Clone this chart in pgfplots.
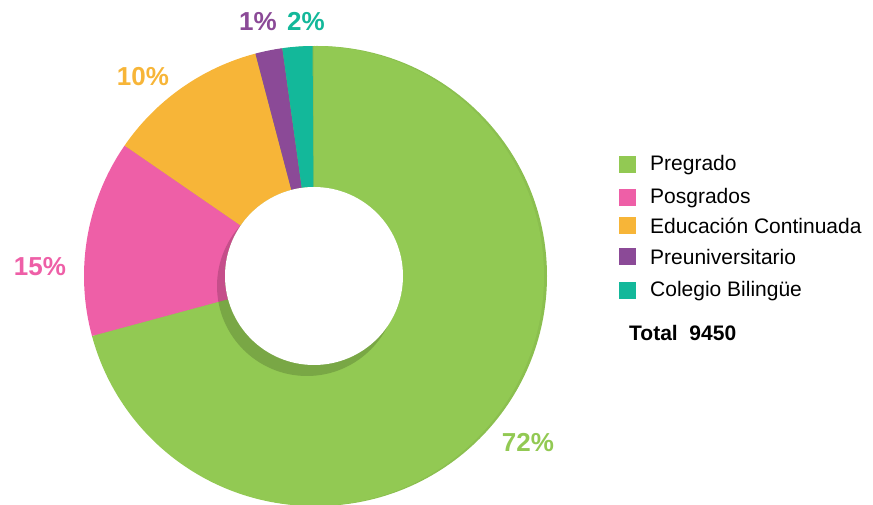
\documentclass[border=0pt]{standalone}
\usepackage{pgfplots}
\pgfplotsset{compat=1.18}
\usepackage{pgfplotstable}
\usepackage{fontspec}
\setmainfont{Liberation Sans}
\definecolor{pregC}{HTML}{92C953}
\definecolor{posC}{HTML}{EE5FA7}
\definecolor{eduC}{HTML}{F7B538}
\definecolor{preuC}{HTML}{8B4A97}
\definecolor{colC}{HTML}{13B89A}

% share of the ring (percent of 360 degrees), clockwise from the top
\pgfplotstableread{
share col
70.8  pregC
13.8  posC
11.3  eduC
1.9   preuC
2.1   colC
}\slices

\begin{document}
\begin{tikzpicture}
\begin{axis}[x=1pt, y=1pt, xmin=0, xmax=873, ymin=0, ymax=505,
  hide axis, scale only axis, clip=false]
\pgfplotsextra{
  \def\cx{314}\def\cy{229}\def\R{230}\def\r{89}
  % faint rim on the right
  \fill[pregC!95!black] (axis cs:317,229) circle[radius=230pt];
  \pgfplotstablegetrowsof{\slices}
  \pgfmathtruncatemacro\N{\pgfplotsretval-1}
  \xdef\angA{90}
  \foreach \i in {0,...,\N}{
    \pgfplotstablegetelem{\i}{share}\of\slices \let\sh\pgfplotsretval
    \pgfplotstablegetelem{\i}{col}\of\slices \let\cl\pgfplotsretval
    \pgfmathsetmacro\angB{\angA-3.6*\sh}
    \fill[\cl] (axis cs:{\cx+\R*cos(\angA)},{\cy+\R*sin(\angA)})
      arc[start angle=\angA, end angle=\angB, radius=\R pt]
      -- (axis cs:{\cx+\r*cos(\angB)},{\cy+\r*sin(\angB)})
      arc[start angle=\angB, end angle=\angA, radius=\r pt] -- cycle;
    \xdef\angA{\angB}
  }
  % hole with its drop shadow
  \fill[black, opacity=0.17] (axis cs:307,219) circle[radius=90pt];
  \fill[white] (axis cs:314,229) circle[radius=89pt];
  % percentages
  \begingroup
  \bfseries\fontsize{26}{26}\selectfont
  \node[text=pregC] at (axis cs:528,62) {72\%};
  \node[text=posC] at (axis cs:40,238) {15\%};
  \node[text=eduC] at (axis cs:143,428) {10\%};
  \node[text=preuC] at (axis cs:258,483) {1\%};
  \node[text=colC] at (axis cs:306,483) {2\%};
  \endgroup
  % legend
  \begingroup
  \fontsize{21}{21}\selectfont
  \foreach \y/\c/\t in {340/pregC/Pregrado, 307/posC/Posgrados,
      279/eduC/Educación Continuada, 248/preuC/Preuniversitario,
      214/colC/Colegio Bilingüe}{
    \fill[\c] (axis cs:619,\y-8.5) rectangle (axis cs:636,\y+8.5);
    \node[anchor=west, inner sep=0pt] at (axis cs:650,\y) {\t};
  }
  \node[anchor=west, inner sep=0pt, font=\bfseries] at (axis cs:629,172) {Total\ \ 9450};
  \endgroup
}
\end{axis}
\pgfresetboundingbox
\useasboundingbox (0,0) rectangle (873pt,505pt);
\end{tikzpicture}
\end{document}
